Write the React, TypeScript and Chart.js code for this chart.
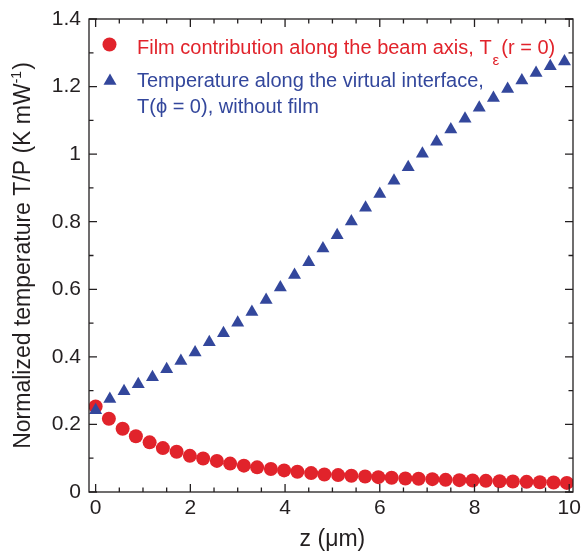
import React, { useEffect, useRef } from "react";
import { Chart, registerables } from "chart.js";

Chart.register(...registerables);

// ---- data ----
const redZ = [0, 0.28, 0.57, 0.85, 1.14, 1.42, 1.71, 1.99, 2.27, 2.56, 2.84, 3.13, 3.41, 3.7, 3.98, 4.26, 4.55, 4.83, 5.12, 5.4, 5.69, 5.97, 6.25, 6.54, 6.82, 7.11, 7.39, 7.68, 7.96, 8.24, 8.53, 8.81, 9.1, 9.38, 9.67, 9.95];
const redT = [0.253, 0.217, 0.187, 0.165, 0.147, 0.13, 0.119, 0.107, 0.099, 0.092, 0.084, 0.078, 0.073, 0.068, 0.064, 0.06, 0.056, 0.052, 0.05, 0.048, 0.046, 0.044, 0.042, 0.04, 0.039, 0.038, 0.036, 0.035, 0.034, 0.033, 0.032, 0.031, 0.03, 0.029, 0.028, 0.027];
const blueZ = [0, 0.3, 0.6, 0.9, 1.2, 1.5, 1.8, 2.1, 2.4, 2.7, 3.0, 3.3, 3.6, 3.9, 4.2, 4.5, 4.8, 5.1, 5.4, 5.7, 6.0, 6.3, 6.6, 6.9, 7.2, 7.5, 7.8, 8.1, 8.4, 8.7, 9.0, 9.3, 9.6, 9.9];
const blueT = [0.242, 0.275, 0.298, 0.319, 0.34, 0.363, 0.388, 0.413, 0.443, 0.47, 0.501, 0.533, 0.568, 0.605, 0.642, 0.68, 0.721, 0.76, 0.801, 0.841, 0.882, 0.921, 0.961, 1.001, 1.037, 1.073, 1.105, 1.137, 1.166, 1.193, 1.218, 1.24, 1.26, 1.274];

const xTickValues = [0, 2, 4, 6, 8, 10];
const yTickValues = [0, 0.2, 0.4, 0.6, 0.8, 1, 1.2, 1.4];
const xMinorTicks = [0, 0.5, 1, 1.5, 2, 2.5, 3, 3.5, 4, 4.5, 5, 5.5, 6, 6.5, 7, 7.5, 8, 8.5, 9, 9.5, 10];
const yMinorTicks = [0, 0.1, 0.2, 0.3, 0.4, 0.5, 0.6, 0.7, 0.8, 0.9, 1, 1.1, 1.2, 1.3, 1.4];

const redLabel = ["Film contribution along the beam axis, T", "ε", "(r = 0)"];
const blueLabel = ["Temperature along the virtual interface,", "T(ϕ = 0), without film"];
const xTitle = "z (μm)";
const yTitle = ["Normalized temperature T/P (K mW", "-1", ")"];

const RED = "#e1232b";
const BLUE = "#33479c";
const INK = "#231f20";
const FONT = "'Liberation Sans', Arial, Helvetica, sans-serif";

const decorPlugin = {
  id: "decor",
  afterDraw(chart: any) {
    const { ctx, chartArea: a, scales } = chart;
    const xs = scales.x;
    const ys = scales.y;
    ctx.save();
    // frame
    ctx.strokeStyle = INK;
    ctx.lineWidth = 1.3;
    ctx.strokeRect(a.left, a.top, a.right - a.left, a.bottom - a.top);
    // ticks (inward, all four sides)
    ctx.beginPath();
    xMinorTicks.forEach((v) => {
      const px = xs.getPixelForValue(v);
      const len = xTickValues.includes(v) ? 8 : 4.5;
      ctx.moveTo(px, a.bottom);
      ctx.lineTo(px, a.bottom - len);
      ctx.moveTo(px, a.top);
      ctx.lineTo(px, a.top + len);
    });
    yMinorTicks.forEach((v) => {
      const py = ys.getPixelForValue(v);
      const len = yTickValues.some((t) => Math.abs(t - v) < 1e-9) ? 8 : 4.5;
      ctx.moveTo(a.left, py);
      ctx.lineTo(a.left + len, py);
      ctx.moveTo(a.right, py);
      ctx.lineTo(a.right - len, py);
    });
    ctx.stroke();

    // legend
    ctx.fillStyle = RED;
    ctx.beginPath();
    ctx.arc(109.5, 44.5, 7, 0, Math.PI * 2);
    ctx.fill();
    ctx.font = `20px ${FONT}`;
    ctx.textBaseline = "alphabetic";
    ctx.textAlign = "left";
    const tx = 137;
    ctx.fillText(redLabel[0], tx, 54);
    const w0 = ctx.measureText(redLabel[0]).width;
    ctx.font = `15px ${FONT}`;
    ctx.fillText(redLabel[1], tx + w0 + 1, 65);
    const w1 = ctx.measureText(redLabel[1]).width;
    ctx.font = `20px ${FONT}`;
    ctx.fillText(redLabel[2], tx + w0 + w1 + 3, 54);

    ctx.fillStyle = BLUE;
    const r = 7.5;
    const cx = 110, cy = 81;
    ctx.beginPath();
    ctx.moveTo(cx, cy - r);
    ctx.lineTo(cx + r * Math.sin((2 * Math.PI) / 3), cy - r * Math.cos((2 * Math.PI) / 3));
    ctx.lineTo(cx + r * Math.sin((4 * Math.PI) / 3), cy - r * Math.cos((4 * Math.PI) / 3));
    ctx.closePath();
    ctx.fill();
    ctx.fillText(blueLabel[0], tx, 87);
    ctx.fillText(blueLabel[1], tx, 113);

    // x title
    ctx.fillStyle = INK;
    ctx.font = `23px ${FONT}`;
    ctx.textAlign = "center";
    ctx.fillText(xTitle, (xs.getPixelForValue(0) + xs.getPixelForValue(10)) / 2, 546);

    // y title (rotated, with superscript)
    ctx.textAlign = "left";
    ctx.font = `23px ${FONT}`;
    const m0 = ctx.measureText(yTitle[0]).width;
    ctx.font = `14px ${FONT}`;
    const m1 = ctx.measureText(yTitle[1]).width;
    ctx.font = `23px ${FONT}`;
    const m2 = ctx.measureText(yTitle[2]).width;
    const total = m0 + m1 + m2 + 1;
    ctx.translate(30, (a.top + a.bottom) / 2);
    ctx.rotate(-Math.PI / 2);
    let px = -total / 2;
    ctx.fillText(yTitle[0], px, 0);
    px += m0;
    ctx.font = `14px ${FONT}`;
    ctx.fillText(yTitle[1], px, -9);
    px += m1 + 1;
    ctx.font = `23px ${FONT}`;
    ctx.fillText(yTitle[2], px, 0);
    ctx.restore();
  },
};

export default function App() {
  const ref = useRef<HTMLCanvasElement>(null);
  useEffect(() => {
    document.body.style.margin = "0";
    const canvas = ref.current!;
    const chart = new Chart(canvas, {
      type: "scatter",
      data: {
        datasets: [
          {
            label: redLabel.join(""),
            data: redZ.map((z, i) => ({ x: z, y: redT[i] })),
            pointStyle: "circle",
            pointRadius: 7,
            pointBackgroundColor: RED,
            pointBorderColor: RED,
            pointBorderWidth: 0,
            order: 1,
          },
          {
            label: blueLabel.join(" "),
            data: blueZ.map((z, i) => ({ x: z, y: blueT[i] })),
            pointStyle: "triangle",
            pointRadius: 7.5,
            pointBackgroundColor: BLUE,
            pointBorderColor: BLUE,
            pointBorderWidth: 0,
            order: 0,
          },
        ],
      },
      options: {
        responsive: false,
        animation: false,
        devicePixelRatio: 1,
        layout: { padding: { left: 0, right: 8, top: 19, bottom: 0 } },
        plugins: { legend: { display: false }, tooltip: { enabled: false } },
        scales: {
          x: {
            type: "linear",
            min: -0.14,
            max: 10.08,
            grid: { display: false, drawTicks: false, tickLength: 0 },
            border: { display: false },
            afterBuildTicks: (s: any) => {
              s.ticks = xTickValues.map((v) => ({ value: v }));
            },
            afterFit: (s: any) => {
              s.height = 60;
              s.paddingLeft = 0;
              s.paddingRight = 0;
            },
            ticks: {
              color: INK,
              font: { family: FONT, size: 21 },
              padding: 4,
              maxRotation: 0,
              autoSkip: false,
              callback: (v: any) => String(v),
            },
          },
          y: {
            type: "linear",
            min: 0,
            max: 1.4,
            grid: { display: false, drawTicks: false, tickLength: 0 },
            border: { display: false },
            afterBuildTicks: (s: any) => {
              s.ticks = yTickValues.map((v) => ({ value: v }));
            },
            afterFit: (s: any) => {
              s.width = 89;
              s.paddingTop = 0;
              s.paddingBottom = 0;
            },
            ticks: {
              color: INK,
              font: { family: FONT, size: 21 },
              padding: 8,
              autoSkip: false,
              callback: (v: any) => String(v),
            },
          },
        },
      },
      plugins: [decorPlugin],
    });
    return () => chart.destroy();
  }, []);
  return (
    <div style={{ width: 581, height: 552 }}>
      <canvas ref={ref} width={581} height={552} style={{ display: "block" }} />
    </div>
  );
}
